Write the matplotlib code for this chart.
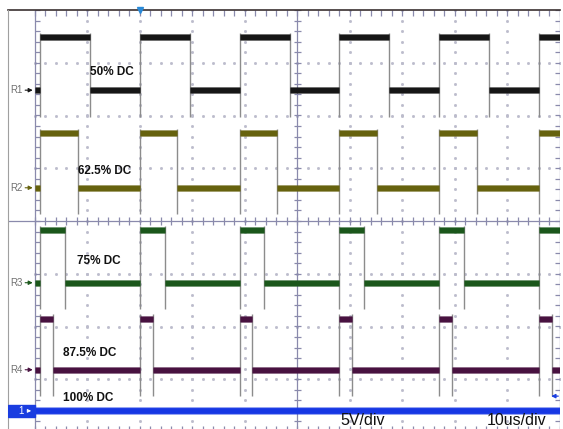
import numpy as np
import matplotlib.pyplot as plt
from matplotlib.patches import Rectangle

plt.rcParams['font.family'] = ['Liberation Sans', 'DejaVu Sans']

# screen: 10 us/div across 10 divisions, 5 V/div, vertical positions in divisions
t_start, t_end = -50.0, 50.0

# rising edges are common to all four reference traces (us)
rise_us = [-49.0, -30.0, -11.0, 8.0, 27.0, 46.0]
r1_fall_us = [-39.5, -20.5, -1.5, 17.5, 36.5]
r2_fall_us = [-41.9, -22.9, -3.9, 15.1, 34.1]
r3_fall_us = [-44.3, -25.3, -6.3, 12.7, 31.7]
r4_fall_us = [-46.6, -27.6, -8.6, 10.4, 29.4, 48.4]

# low / high level of each trace (divisions from centre)
r1_levels = (2.48, 3.49)
r2_levels = (0.63, 1.66)
r3_levels = (-1.17, -0.17)
r4_levels = (-2.82, -1.85)
ch1_level = -3.60

trace_names = ['R1', 'R2', 'R3', 'R4']
trace_colors = ['#161616', '#66620e', '#1b571b', '#481240']
duty_labels = ['50% DC', '62.5% DC', '75% DC', '87.5% DC', '100% DC']
duty_label_pos = [(-39.5, 2.82), (-41.8, 0.95), (-42.0, -0.76), (-44.7, -2.50), (-44.7, -3.36)]

grat = '#8a8aac'
x_left = -55.14  # outer frame, left of the graticule

fig = plt.figure(figsize=(5.63, 4.29), dpi=100)
ax = fig.add_axes([8 / 563, 1 - 432 / 429, 552 / 563, 422 / 429])
ax.set_xlim(x_left, t_end)
ax.set_ylim(-4, 4)
ax.axis('off')

# graticule: dotted major lines
minor_t = np.arange(-50, 50.01, 2)
minor_y = np.arange(-4, 4.01, 0.2)
for xv in range(-40, 41, 10):
    if xv != 0:
        ax.plot(np.full_like(minor_y, xv), minor_y, ls='none', marker='s', ms=1.0, color='#bcbccc', zorder=1)
for yv in range(-3, 4):
    if yv != 0:
        ax.plot(minor_t, np.full_like(minor_t, yv), ls='none', marker='s', ms=1.0, color='#bcbccc', zorder=1)

# centre cross with ticks
ax.axvline(0, color=grat, lw=0.9, zorder=1)
ax.axhline(0, color=grat, lw=0.9, zorder=1)
ax.hlines(minor_y, -0.75, 0.75, color=grat, lw=0.9, zorder=1)
ax.vlines(minor_t, -0.07, 0.07, color=grat, lw=0.9, zorder=1)

# edges with inward ticks
ax.vlines([-50, 50], -4, 4, color=grat, lw=0.9, zorder=1)
ax.hlines(minor_y, -50, -49.1, color=grat, lw=0.9, zorder=1)
ax.hlines(minor_y, 49.1, 50, color=grat, lw=0.9, zorder=1)
ax.vlines(minor_t, 3.88, 4, color=grat, lw=0.9, zorder=1)
ax.vlines(minor_t, -4, -3.88, color=grat, lw=0.9, zorder=1)

# outer frame
ax.plot([x_left, t_end], [4, 4], color='#3a3030', lw=1.2, clip_on=False, zorder=2)
ax.plot([x_left, x_left], [-4, 4], color='#a0a0a0', lw=0.8, clip_on=False, zorder=2)


def draw_pulse(rises, falls, low, high, color):
    lows, highs = [], []
    prev = t_start
    for i, r in enumerate(rises):
        lows.append((prev, r))
        f = falls[i] if i < len(falls) else t_end
        highs.append((r, f))
        prev = f
    if prev < t_end:
        lows.append((prev, t_end))
    ax.vlines(rises + falls, low - 0.5, high + 0.08, color='#8c8c8c', lw=1.0, zorder=3)
    for lvl, segs in [(low, lows), (high, highs)]:
        ys = [lvl] * len(segs)
        xs0 = [s[0] for s in segs]
        xs1 = [s[1] for s in segs]
        ax.hlines(ys, xs0, xs1, color=color, lw=5.0, alpha=0.55, capstyle='butt', zorder=4)
        ax.hlines(ys, xs0, xs1, color=color, lw=3.8, capstyle='butt', zorder=5)


falls = [r1_fall_us, r2_fall_us, r3_fall_us, r4_fall_us]
levels = [r1_levels, r2_levels, r3_levels, r4_levels]
for name, fl, (lo, hi), col in zip(trace_names, falls, levels, trace_colors):
    draw_pulse(rise_us, fl, lo, hi, col)
    ax.text(-54.7, lo, name, fontsize=7, color='#707070', va='center', ha='left')
    ax.annotate('', xy=(-49.9, lo), xytext=(-52.4, lo),
                arrowprops=dict(arrowstyle='-|>', color=col, lw=0.8, mutation_scale=6), zorder=6)

# channel 1 (100% duty, flat)
ax.hlines(ch1_level, x_left, t_end, color='#1637e4', lw=5.6, alpha=0.5, capstyle='butt', zorder=4)
ax.hlines(ch1_level, x_left, t_end, color='#1637e4', lw=4.2, capstyle='butt', zorder=5)
ax.add_patch(Rectangle((x_left, -3.71), -50 - x_left, 0.22, color='#1a3de0', zorder=6))
ax.text(-52.6, ch1_level, '1', color='white', fontsize=7, va='center', ha='center', zorder=7)
ax.annotate('', xy=(-50.2, ch1_level), xytext=(-51.9, ch1_level),
            arrowprops=dict(arrowstyle='-|>', color='white', lw=0.7, mutation_scale=5), zorder=7)

# trigger markers
ax.plot([-30.0], [4.0], marker='v', color='#2a8ad8', ms=5, clip_on=False, zorder=7)
ax.annotate('', xy=(47.8, -3.32), xytext=(50.2, -3.32),
            arrowprops=dict(arrowstyle='-|>', color='#1a3de0', lw=0.9, mutation_scale=6),
            annotation_clip=False, zorder=7)

for lbl, (xt, yt) in zip(duty_labels, duty_label_pos):
    ax.text(xt, yt, lbl, fontsize=8.5, fontweight='bold', color='#111111', va='center', ha='left', zorder=8)

ax.text(8.1, -3.86, '5V/div', fontsize=11.5, color='#111111', va='baseline', ha='left', zorder=8)
ax.text(36.1, -3.86, '10us/div', fontsize=11.5, color='#111111', va='baseline', ha='left', zorder=8)

fig.savefig('out.png', dpi=100)
